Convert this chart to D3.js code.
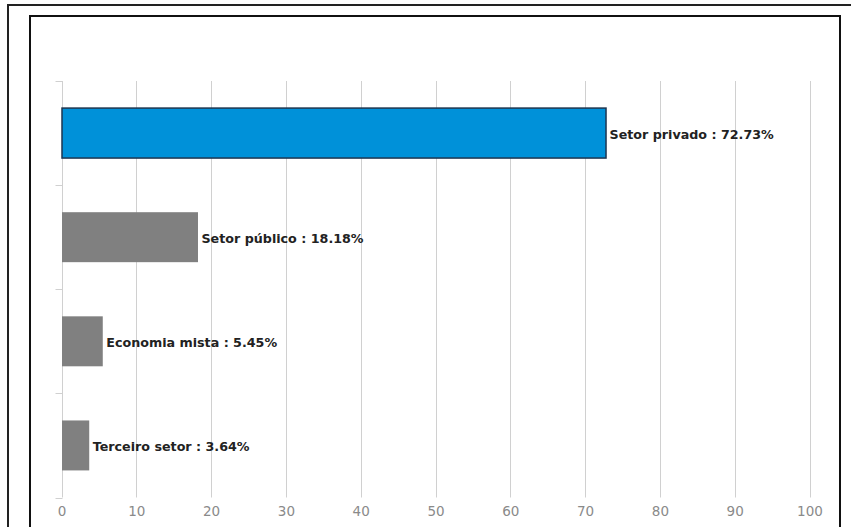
<!DOCTYPE html>
<html>
<head>
<meta charset="utf-8">
<script src="https://cdn.jsdelivr.net/npm/d3@7"></script>
<style>
  html, body { margin: 0; padding: 0; background: #fff; overflow: hidden; }
  svg { display: block; }
</style>
</head>
<body>
<svg id="chart" width="851" height="527"></svg>
<script>
// Sector distribution (percent)
const categories = ["Setor privado", "Setor público", "Economia mista", "Terceiro setor"];
const values = [72.73, 18.18, 5.45, 3.64];
const barColors = ["#0091d9", "#808080", "#808080", "#808080"];
const xTicks = [0, 10, 20, 30, 40, 50, 60, 70, 80, 90, 100];

const svg = d3.select("#chart");

// Outer and inner frames
svg.append("rect")
  .attr("x", 8).attr("y", 5).attr("width", 860).attr("height", 540)
  .attr("fill", "none").attr("stroke", "#222").attr("stroke-width", 2);
svg.append("rect")
  .attr("x", 30).attr("y", 16).attr("width", 810).attr("height", 530)
  .attr("fill", "none").attr("stroke", "#111").attr("stroke-width", 2);

const plot = { left: 61.5, right: 809.5, top: 81, bottom: 497.5 };

const x = d3.scaleLinear().domain([0, 100]).range([plot.left, plot.right]);
const y = d3.scaleBand().domain(categories).range([plot.top, plot.bottom]).paddingInner(0.52).paddingOuter(0.26);
const yEdges = d3.scaleLinear().domain([0, categories.length]).range([plot.top, plot.bottom]);

// Vertical gridlines
svg.append("g")
  .selectAll("line")
  .data(xTicks.filter(t => t > 0))
  .join("line")
  .attr("x1", d => Math.round(x(d)) + 0.5)
  .attr("x2", d => Math.round(x(d)) + 0.5)
  .attr("y1", plot.top)
  .attr("y2", plot.bottom)
  .attr("stroke", "#d0d0d0")
  .attr("stroke-width", 1);

// Category axis line with boundary ticks
const axisX = Math.round(x(0)) + 0.5;
svg.append("line")
  .attr("x1", axisX).attr("x2", axisX)
  .attr("y1", plot.top).attr("y2", plot.bottom)
  .attr("stroke", "#d0d0d0");
svg.append("g")
  .selectAll("line")
  .data(d3.range(categories.length + 1))
  .join("line")
  .attr("x1", axisX - 7).attr("x2", axisX)
  .attr("y1", d => Math.round(yEdges(d)) + 0.5)
  .attr("y2", d => Math.round(yEdges(d)) + 0.5)
  .attr("stroke", "#d0d0d0");

// Value axis tick labels
const xAxis = d3.axisBottom(x).tickValues(xTicks).tickSize(0).tickPadding(0).tickFormat(d3.format("d"));
const gx = svg.append("g").attr("transform", `translate(0,${plot.bottom + 9})`).call(xAxis);
gx.select(".domain").remove();
gx.selectAll("text")
  .attr("font-family", "'DejaVu Sans', sans-serif")
  .attr("font-size", 13.5)
  .attr("fill", "#8a8a8a");

// Bars
svg.append("g")
  .selectAll("rect")
  .data(categories)
  .join("rect")
  .attr("x", x(0) + 0.5)
  .attr("y", d => y(d))
  .attr("width", (d, i) => x(values[i]) - x(0))
  .attr("height", y.bandwidth())
  .attr("fill", (d, i) => barColors[i])
  .attr("stroke", (d, i) => i === 0 ? "#1d3550" : "none")
  .attr("stroke-width", 1.5);

// Value labels
svg.append("g")
  .selectAll("text")
  .data(categories)
  .join("text")
  .attr("x", (d, i) => x(values[i]) + 4)
  .attr("y", d => y(d) + y.bandwidth() / 2 + 1.5)
  .attr("dy", "0.35em")
  .attr("font-family", "'DejaVu Sans', sans-serif")
  .attr("font-weight", "bold")
  .attr("font-size", 12.7)
  .attr("fill", "#222")
  .text((d, i) => `${d} : ${values[i].toFixed(2)}%`);
</script>
</body>
</html>
